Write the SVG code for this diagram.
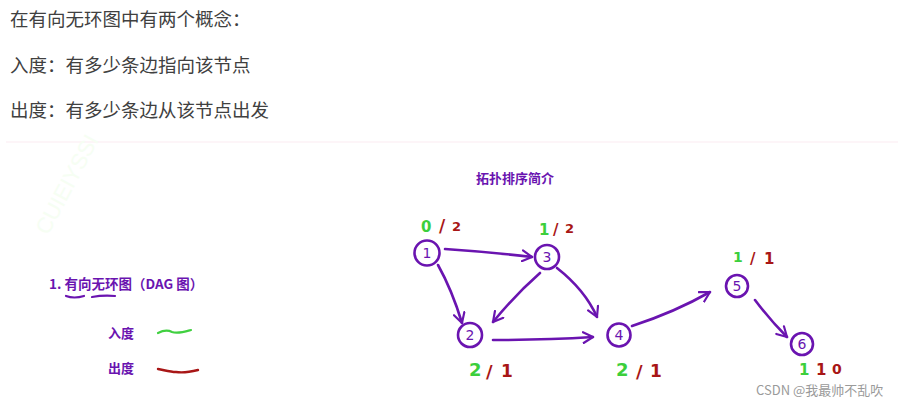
<svg xmlns="http://www.w3.org/2000/svg" width="904" height="414" viewBox="0 0 904 414">
<defs>
<style>
.body{font-family:"Noto Sans CJK SC","Noto Sans",sans-serif;font-size:18.5px;fill:#404040}
.pt{font-family:"Noto Sans CJK SC","Liberation Sans",sans-serif;font-weight:bold;fill:#6a14b0}
.node circle{fill:none;stroke:#6a14b0;stroke-width:2.6}
.node text{font-family:"DejaVu Sans",sans-serif;font-size:14px;fill:#6a14b0;text-anchor:middle}
.lbl{font-family:"DejaVu Sans",sans-serif;font-weight:bold}
.g{fill:#3ccf3c}
.r{fill:#a81616}
.edge{fill:none;stroke:#6a14b0;stroke-width:2.6;stroke-linecap:round;marker-end:url(#ah)}
</style>
<marker id="ah" viewBox="0 0 12 12" refX="10" refY="6" markerWidth="5" markerHeight="5" orient="auto" markerUnits="strokeWidth">
<path d="M1,1 L10,6 L1,11" fill="none" stroke="#6a14b0" stroke-width="2" stroke-linecap="round" stroke-linejoin="round"/>
</marker>
</defs>
<rect width="904" height="414" fill="#ffffff"/>
<text class="body" x="10" y="26">在有向无环图中有两个概念：</text>
<text class="body" x="10" y="72">入度：有多少条边指向该节点</text>
<text class="body" x="10" y="117">出度：有多少条边从该节点出发</text>
<line x1="6" y1="142" x2="898" y2="142" stroke="#fbecf1" stroke-width="1.2"/>
<text x="0" y="0" transform="translate(48,236) rotate(-62)" font-family="Liberation Sans,sans-serif" font-size="22" fill="#f6fef3">CUIEIYSSI</text>
<text class="pt" x="476" y="183" font-size="13">拓扑排序简介</text>
<text class="pt" x="49" y="289" font-size="13.5">1. 有向无环图（DAG 图）</text>
<path d="M66,296 Q74,299 84,296" fill="none" stroke="#6a14b0" stroke-width="2.2" stroke-linecap="round"/>
<path d="M92,297 Q103,295 115,296" fill="none" stroke="#6a14b0" stroke-width="2.2" stroke-linecap="round"/>
<text class="pt" x="108" y="338" font-size="13">入度</text>
<path d="M158,333 C164,330 168,330 172,332 C178,334 184,332 191,330" fill="none" stroke="#40d040" stroke-width="2.2" stroke-linecap="round"/>
<text class="pt" x="108" y="373" font-size="13">出度</text>
<path d="M158,369 C164,370 170,372 176,372 C182,373 190,372 198,370" fill="none" stroke="#a81616" stroke-width="2.4" stroke-linecap="round"/>
<g id="connectors">
<path class="edge" d="M445,249 Q490,252 532,257"/>
<path class="edge" d="M438,265 Q452,290 462,323"/>
<path class="edge" d="M540,273 Q515,295 493,322"/>
<path class="edge" d="M557,268 Q585,290 597,317"/>
<path class="edge" d="M493,340 Q545,340 593,337"/>
<path class="edge" d="M632,326 Q675,312 710,292"/>
<path class="edge" d="M755,300 Q770,320 787,337"/>
</g>
<g id="node1" class="node"><circle cx="427" cy="253" r="12.5"/><text x="427" y="258">1</text></g>
<g id="node2" class="node"><circle cx="470" cy="335" r="12"/><text x="470" y="340">2</text></g>
<g id="node3" class="node"><circle cx="547" cy="257" r="12"/><text x="547" y="262">3</text></g>
<g id="node4" class="node"><circle cx="619" cy="335" r="11.5"/><text x="619" y="340">4</text></g>
<g id="node5" class="node"><circle cx="737" cy="286" r="11"/><text x="737" y="291">5</text></g>
<g id="node6" class="node"><circle cx="802" cy="344" r="11"/><text x="802" y="349">6</text></g>
<g id="labels" class="lbl">
<text x="421" y="232" font-size="15" class="g">0</text>
<text x="439" y="232" font-size="17" class="r">/</text>
<text x="452" y="231" font-size="13" class="r">2</text>
<text x="539" y="235" font-size="15" class="g">1</text>
<text x="553" y="235" font-size="15" class="r">/</text>
<text x="565" y="233" font-size="13" class="r">2</text>
<text x="469" y="376" font-size="18" class="g">2</text>
<text x="486" y="378" font-size="18" class="r">/</text>
<text x="501" y="377" font-size="17" class="r">1</text>
<text x="616" y="376" font-size="18" class="g">2</text>
<text x="636" y="378" font-size="18" class="r">/</text>
<text x="650" y="377" font-size="17" class="r">1</text>
<text x="733" y="262" font-size="14" class="g">1</text>
<text x="750" y="264" font-size="15" class="r">/</text>
<text x="764" y="264" font-size="15" class="r">1</text>
<text x="799" y="375" font-size="15" class="g">1</text>
<text x="816" y="375" font-size="15" class="r">1</text>
<text x="832" y="374" font-size="14" class="r">0</text>
</g>
<text x="756" y="395" font-family="Noto Sans CJK SC,Liberation Sans,sans-serif" font-size="13" fill="#9a9a9a">CSDN @我最帅不乱吹</text>
</svg>
